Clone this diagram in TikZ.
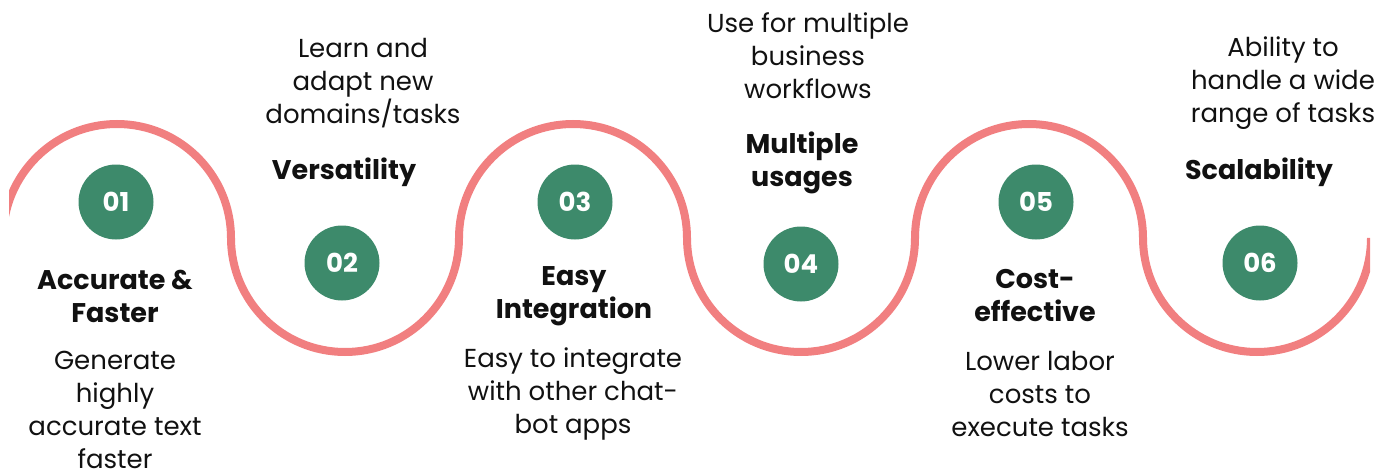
\documentclass[tikz,border=0pt]{standalone}
\usepackage{fontspec}
\setmainfont{Poppins}
\newfontfamily\popbold{Poppins Bold}
\definecolor{wavepink}{HTML}{F17F80}
\definecolor{numgreen}{HTML}{3D8A6B}
\definecolor{txtblack}{HTML}{111111}
\tikzset{
  numdot/.style={circle, fill=numgreen, minimum size=75pt, inner sep=0pt, text=white, font=\popbold\fontsize{26}{26}\selectfont},
  titletxt/.style={align=center, inner sep=0pt, text=txtblack, font=\popbold\fontsize{27}{33}\selectfont},
  bodytxt/.style={align=center, inner sep=0pt, text=txtblack, font=\fontsize{26}{33}\selectfont},
  wave/.style={draw=wavepink, line width=8pt}
}
\begin{document}
\begin{tikzpicture}[x=1pt,y=1pt]
\useasboundingbox (0,0) rectangle (1376,475);
\begin{scope}
\clip (9,0) rectangle (1370,475);
\draw[wave] (3,237) arc[start angle=180,end angle=0,radius=114]
  arc[start angle=180,end angle=360,radius=114]
  arc[start angle=180,end angle=0,radius=114]
  arc[start angle=180,end angle=360,radius=114]
  arc[start angle=180,end angle=0,radius=114]
  arc[start angle=180,end angle=360,radius=114];
\end{scope}
\node[numdot] (n1) at (116,273) {01};
\node[numdot] (n2) at (342,212) {02};
\node[numdot] (n3) at (575,273) {03};
\node[numdot] (n4) at (801,211) {04};
\node[numdot] (n5) at (1036,273) {05};
\node[numdot] (n6) at (1260,212) {06};
\node[titletxt] (t1) at (115,179) {Accurate \&\\Faster};
\node[bodytxt] (b1) at (115,65) {Generate\\highly\\accurate text\\faster};
\node[titletxt] (t2) at (344,303) {Versatility};
\node[bodytxt] (b2) at (363,392) {Learn and\\adapt new\\domains/tasks};
\node[titletxt] (t3) at (574,179) {Easy\\Integration};
\node[bodytxt] (b3) at (573,81) {Easy to integrate\\with other chat-\\bot apps};
\node[titletxt] (t4) at (802,312) {Multiple\\usages};
\node[bodytxt] (b4) at (808,419) {Use for multiple\\business\\workflows};
\node[titletxt] (t5) at (1035,179) {Cost-\\effective};
\node[bodytxt] (b5) at (1040,81) {Lower labor\\costs to\\execute tasks};
\node[titletxt] (t6) at (1259,303) {Scalability};
\node[bodytxt] (b6) at (1283,392) {Ability to\\handle a wide\\range of tasks};
\end{tikzpicture}
\end{document}
